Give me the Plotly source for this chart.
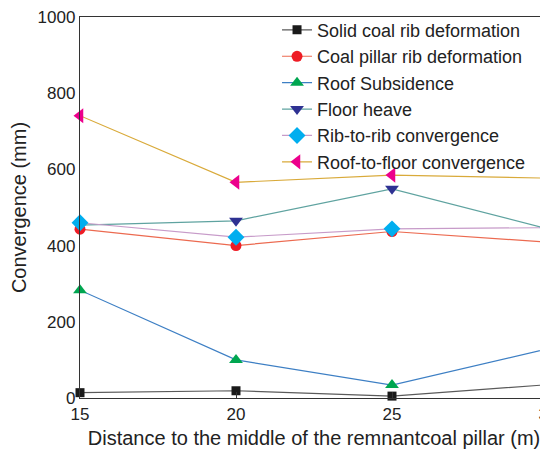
import plotly.graph_objects as go

distance = [15, 20, 25, 30]
solid_coal = [14, 19, 5, 35]
coal_pillar = [443, 400, 437, 409]
roof_subsidence = [283, 100, 34, 129]
floor_heave = [454, 465, 549, 444]
rib_to_rib = [460, 422, 444, 447]
roof_to_floor = [741, 566, 585, 577]

series = [
    ("Solid coal rib deformation", solid_coal, "#5a5a5a", "square", "#1a1a1a", 9),
    ("Coal pillar rib deformation", coal_pillar, "#ec6a50", "circle", "#ee1c25", 11),
    ("Roof Subsidence", roof_subsidence, "#3d7fc4", "triangle-up", "#00a650", 12),
    ("Floor heave", floor_heave, "#5fa3a0", "triangle-down", "#2e3192", 12),
    ("Rib-to-rib convergence", rib_to_rib, "#c79bc9", "diamond", "#00aeef", 13),
    ("Roof-to-floor convergence", roof_to_floor, "#d9aa3a", "triangle-left", "#ec008c", 13),
]

fig = go.Figure()
for name, vals, lc, sym, mc, ms in series:
    fig.add_trace(go.Scatter(
        x=distance, y=vals, name=name, mode="lines+markers",
        line=dict(color=lc, width=1.2),
        marker=dict(symbol=sym, color=mc, size=ms, line=dict(width=0)),
        cliponaxis=False,
    ))

font_family = "Liberation Sans, Arial, sans-serif"
fig.update_layout(
    width=540, height=447,
    margin=dict(l=72, r=0, t=9, b=57),
    paper_bgcolor="white", plot_bgcolor="white",
    font=dict(family=font_family, color="#222222", size=17),
    showlegend=True,
    legend=dict(
        x=0.421, y=1.014, xanchor="left", yanchor="top",
        bgcolor="rgba(0,0,0,0)", borderwidth=0,
        font=dict(size=18, color="#222222"),
        tracegroupgap=0, itemwidth=30,
    ),
    xaxis=dict(
        range=[15, 30.0],
        tickvals=[15, 20, 25, 30],
        ticktext=["15", "20", "25", "30"],
        showgrid=False, zeroline=False, automargin=False,
        ticklabeloverflow="allow",
        showline=True, linecolor="#333333", linewidth=1.3, mirror=True,
        ticks="inside", ticklen=6, tickcolor="#333333",
        tickfont=dict(size=17),
        title=dict(text="Distance to the middle of the remnantcoal pillar (m)",
                   font=dict(size=20), standoff=8),
    ),
    yaxis=dict(
        range=[0, 1000],
        tickvals=[0, 200, 400, 600, 800, 1000],
        showgrid=False, zeroline=False, automargin=False,
        ticklabeloverflow="allow",
        showline=True, linecolor="#333333", linewidth=1.3, mirror=True,
        ticks="", tickfont=dict(size=17),
        title=dict(text="Convergence (mm)", font=dict(size=20), standoff=7),
    ),
)

fig.write_html("out.html")
